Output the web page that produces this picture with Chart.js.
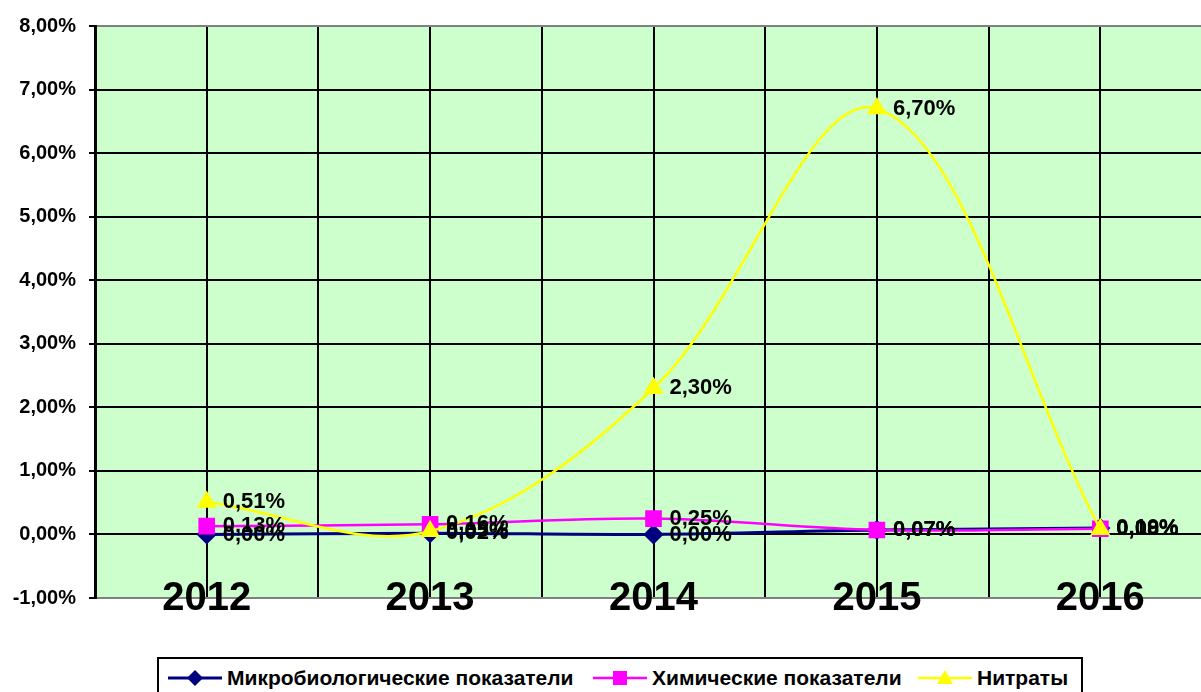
<!DOCTYPE html>
<html>
<head>
<meta charset="utf-8">
<script src="https://cdn.jsdelivr.net/npm/chart.js@4/dist/chart.umd.min.js"></script>
<style>
  html, body { margin: 0; padding: 0; background: #fff; overflow: hidden; width: 1201px; height: 692px; }
  #wrap { position: absolute; left: 0; top: 0; width: 1213px; height: 692px; }
  #c { display: block; width: 1213px; height: 692px; }
  #legend { position: absolute; left: 157px; top: 657px; width: 926px; height: 44px;
            border: 2px solid #000; box-sizing: border-box; background: #fff; }
  .item { position: absolute; top: 0; height: 38px; display: flex; align-items: center;
          font: bold 21px "Liberation Sans", Arial, sans-serif; color: #000; white-space: nowrap; }
  .item svg { margin-right: 5px; display: block; }
</style>
</head>
<body>
<div id="wrap"><canvas id="c" width="1213" height="692"></canvas></div>
<div id="legend">
  <div class="item" style="left:9px">
    <svg width="54" height="20"><line x1="0" y1="10" x2="54" y2="10" stroke="#000080" stroke-width="3"/>
      <polygon points="27,2 35,10 27,18 19,10" fill="#000080"/></svg>Микробиологические показатели</div>
  <div class="item" style="left:434px">
    <svg width="54" height="20"><line x1="0" y1="10" x2="54" y2="10" stroke="#FF00FF" stroke-width="2.5"/>
      <rect x="20" y="3" width="14" height="14" fill="#FF00FF"/></svg>Химические показатели</div>
  <div class="item" style="left:759px">
    <svg width="54" height="20"><line x1="0" y1="10" x2="54" y2="10" stroke="#FFFF00" stroke-width="2.5"/>
      <polygon points="27,2 35,16 19,16" fill="#FFFF00"/></svg>Нитраты</div>
</div>
<script>
// Categories and series (percent values)
const years = ['2012', '2013', '2014', '2015', '2016'];
const microValues = [0.00, 0.02, 0.00, 0.07, 0.10];
const chemValues = [0.13, 0.16, 0.25, 0.07, 0.09];
const nitrateValues = [0.51, 0.05, 2.30, 6.70, 0.08];
const yTickMin = -1;
const yTickMax = 8;
const yTickStep = 1;

const FONT = '"Liberation Sans", Arial, sans-serif';
const fmtPct = v => v.toFixed(2).replace('.', ',') + '%';
const toPoints = arr => arr.map((v, i) => ({ x: i, y: v }));

// Pale green plot background
const plotBackground = {
  id: 'plotBackground',
  beforeDraw(chart) {
    const { ctx, chartArea: a } = chart;
    ctx.save();
    ctx.fillStyle = '#CCFFCC';
    ctx.fillRect(a.left, a.top, a.right - a.left, a.bottom - a.top);
    ctx.restore();
  }
};

// Large year labels straddling the bottom edge of the plot
const yearLabels = {
  id: 'yearLabels',
  afterDraw(chart) {
    const { ctx, chartArea: a } = chart;
    const xs = chart.scales.x;
    ctx.save();
    ctx.font = 'bold 40px ' + FONT;
    ctx.fillStyle = '#000';
    ctx.textAlign = 'center';
    ctx.textBaseline = 'alphabetic';
    xs.ticks.forEach(t => {
      if (Number.isInteger(t.value) && years[t.value] !== undefined) {
        ctx.fillText(years[t.value], xs.getPixelForValue(t.value), a.bottom + 12);
      }
    });
    ctx.restore();
  }
};

// Value labels to the right of each point
const valueLabels = {
  id: 'valueLabels',
  afterDatasetsDraw(chart) {
    const ctx = chart.ctx;
    ctx.save();
    ctx.font = 'bold 22px ' + FONT;
    ctx.fillStyle = '#000';
    ctx.textAlign = 'left';
    ctx.textBaseline = 'middle';
    chart.data.datasets.forEach((ds, di) => {
      const meta = chart.getDatasetMeta(di);
      meta.data.forEach((el, i) => {
        ctx.fillText(fmtPct(ds.data[i].y), el.x + 16, el.y);
      });
    });
    ctx.restore();
  }
};

new Chart(document.getElementById('c'), {
  type: 'line',
  data: {
    datasets: [
      {
        label: 'Микробиологические показатели',
        data: toPoints(microValues),
        borderColor: '#000080', backgroundColor: '#000080',
        borderWidth: 3, pointStyle: 'rectRot', pointRadius: 8,
        pointBorderColor: '#000080', pointBackgroundColor: '#000080',
        tension: 0.35, order: 2
      },
      {
        label: 'Химические показатели',
        data: toPoints(chemValues),
        borderColor: '#FF00FF', backgroundColor: '#FF00FF',
        borderWidth: 2.5, pointStyle: 'rect', pointRadius: 10,
        pointBorderColor: '#FF00FF', pointBackgroundColor: '#FF00FF',
        tension: 0.35, order: 1
      },
      {
        label: 'Нитраты',
        data: toPoints(nitrateValues),
        borderColor: '#FFFF00', backgroundColor: '#FFFF00',
        borderWidth: 2.5, pointStyle: 'triangle', pointRadius: 9,
        pointBorderColor: '#FFFF00', pointBackgroundColor: '#FFFF00',
        tension: 0.35, order: 0
      }
    ]
  },
  options: {
    responsive: false,
    animation: false,
    devicePixelRatio: 1,
    layout: { autoPadding: false, padding: { top: 26, right: 1, left: 0, bottom: 0 } },
    plugins: { legend: { display: false }, tooltip: { enabled: false } },
    scales: {
      x: {
        type: 'linear',
        min: -0.5, max: years.length - 0.5,
        afterFit: s => { s.height = 94; },
        ticks: { display: false, stepSize: 0.5, autoSkip: false, maxRotation: 0 },
        grid: { color: '#000', lineWidth: 2, drawTicks: false },
        border: { color: '#808080', width: 2 }
      },
      y: {
        min: yTickMin, max: yTickMax,
        afterFit: s => { s.width = 95; },
        ticks: {
          stepSize: yTickStep, padding: 13, color: '#000',
          font: { family: FONT, size: 20, weight: 'bold' },
          callback: v => fmtPct(v)
        },
        grid: {
          color: c => (c.tick && (c.tick.value === yTickMax || c.tick.value === yTickMin)) ? '#808080' : '#000',
          lineWidth: 2, tickLength: 6, tickColor: '#000'
        },
        border: { color: '#000', width: 3 }
      }
    }
  },
  plugins: [plotBackground, valueLabels, yearLabels]
});
</script>
</body>
</html>
